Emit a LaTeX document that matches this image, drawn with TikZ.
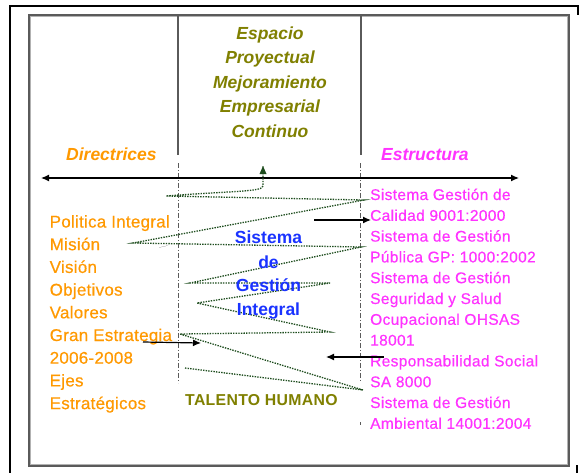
\documentclass[tikz,border=0pt]{standalone}
\usepackage{fontspec}
\setmainfont{Liberation Sans}
\newfontfamily\listfontL[LetterSpace=1.5, FakeBold=0.5]{Liberation Sans}
\newfontfamily\listfontR[LetterSpace=2.2, FakeBold=0.5]{Liberation Sans}
\newfontfamily\talentfont[LetterSpace=2]{Liberation Sans}
\usetikzlibrary{arrows.meta}
\definecolor{olv}{HTML}{808000}
\definecolor{orng}{HTML}{FF9900}
\definecolor{mgnt}{HTML}{FF33FF}
\definecolor{blu}{HTML}{1A33FF}
\definecolor{grn}{HTML}{1E4D1E}
\definecolor{frm}{HTML}{5A5A5A}
\tikzset{
  titletxt/.style={text=olv, font=\fontsize{17.5}{24}\selectfont\bfseries\itshape, anchor=base, inner sep=0pt},
  headtxt/.style={font=\fontsize{17.5}{24}\selectfont\bfseries\itshape, anchor=base west, inner sep=0pt},
  lefttxt/.style={text=orng, font=\listfontL\fontsize{17}{23}\selectfont, anchor=base west, inner sep=0pt},
  righttxt/.style={text=mgnt, font=\listfontR\fontsize{15.5}{21}\selectfont, anchor=base west, inner sep=0pt},
  bluetxt/.style={text=blu, font=\fontsize{17.5}{24}\selectfont\bfseries, anchor=base, inner sep=0pt},
  talenttxt/.style={text=olv, font=\talentfont\fontsize{15.8}{20}\selectfont\bfseries, anchor=base west, inner sep=0pt},
  colline/.style={draw=frm, line width=1.2pt},
  dashcol/.style={draw=frm, line width=1pt, dash pattern=on 5pt off 2pt on 1pt off 2pt},
  blackarrow/.style={draw=black, line width=1.2pt, -{Latex[length=8pt,width=7pt]}},
  spring/.style={draw=grn, line width=1.3pt, dash pattern=on 1.4pt off 1.2pt}
}
\begin{document}
\begin{tikzpicture}[x=1pt,y=-1pt]
\useasboundingbox (0,0) rectangle (579,472);
\fill[white] (0,0) rectangle (579,472);
% outer frame
\draw[black, line width=2.5pt] (10,473) -- (10,6) -- (578,6) -- (578,15);
\draw[black, line width=2.5pt] (577,465) -- (577,473);
% inner frame
\draw[frm, line width=2pt] (29,15) rectangle (569,466);
\draw[gray!60, line width=0.6pt] (30.5,16.5) rectangle (567.5,464.5);
% column lines
\coordinate (c1t) at (178,16); \coordinate (c1b) at (178,155);
\coordinate (c2t) at (361,16); \coordinate (c2b) at (361,155);
\draw[colline] (c1t) -- (c1b);
\draw[colline] (c2t) -- (c2b);
\coordinate (d1t) at (178,163); \coordinate (d1b) at (178,383);
\coordinate (d2t) at (360,163); \coordinate (d2b) at (360,381);
\draw[dashcol] (d1t) -- (d1b);
\draw[dashcol] (d2t) -- (d2b);
\coordinate (d2x) at (360,422); \coordinate (d2y) at (360,425);
\draw[frm, line width=1pt] (d2x) -- (d2y);
% title
\node[titletxt] (t1) at (270,39.3) {Espacio};
\node[titletxt] (t2) at (270,63.5) {Proyectual};
\node[titletxt] (t3) at (270,88) {Mejoramiento};
\node[titletxt] (t4) at (270,112) {Empresarial};
\node[titletxt] (t5) at (270,137.5) {Continuo};
% headings
\node[headtxt, text=orng] (hdir) at (66,160) {Directrices};
\node[headtxt, text=mgnt] (hest) at (381,160) {Estructura};
% main horizontal arrow
\coordinate (hl) at (41,178); \coordinate (hr) at (519,178);
\draw[black, line width=1.2pt, {Latex[length=8pt,width=7pt]}-{Latex[length=8pt,width=7pt]}] (hl) -- (hr);
% left list
\node[lefttxt] (l1) at (49.5,227.5) {Politica Integral};
\node[lefttxt] (l2) at (49.5,250.2) {Misión};
\node[lefttxt] (l3) at (49.5,272.9) {Visión};
\node[lefttxt] (l4) at (49.5,295.6) {Objetivos};
\node[lefttxt] (l5) at (49.5,318.3) {Valores};
\node[lefttxt] (l6) at (49.5,341) {Gran Estrategia};
\node[lefttxt] (l7) at (49.5,363.7) {2006-2008};
\node[lefttxt] (l8) at (49.5,386.4) {Ejes};
\node[lefttxt] (l9) at (49.5,409.1) {Estratégicos};
% right list
\node[righttxt] (r1) at (370,200) {Sistema Gestión de};
\node[righttxt] (r2) at (370,220.8) {Calidad 9001:2000};
\node[righttxt] (r3) at (370,241.6) {Sistema de Gestión};
\node[righttxt] (r4) at (370,262.4) {Pública GP: 1000:2002};
\node[righttxt] (r5) at (370,283.2) {Sistema de Gestión};
\node[righttxt] (r6) at (370,304) {Seguridad y Salud};
\node[righttxt] (r7) at (370,324.8) {Ocupacional OHSAS};
\node[righttxt] (r8) at (370,345.6) {18001};
\node[righttxt] (r9) at (370,366.4) {Responsabilidad Social};
\node[righttxt] (r10) at (370,387.2) {SA 8000};
\node[righttxt] (r11) at (370,408) {Sistema de Gestión};
\node[righttxt] (r12) at (370,428.8) {Ambiental 14001:2004};
% spring
\coordinate (s0) at (263,166);
\coordinate (s1) at (263,186);
\coordinate (s2) at (166,196);
\coordinate (s3) at (364,200);
\coordinate (s4) at (133,243);
\coordinate (s5) at (361,247);
\coordinate (s6) at (190,283);
\coordinate (s7) at (330,283);
\coordinate (s8) at (197,303);
\coordinate (s9) at (330,332);
\coordinate (s10) at (180,334);
\coordinate (s11) at (363,390);
\coordinate (s12) at (185,368);
\draw[spring] (s12) -- (s11) -- (s10) -- (s9) -- (s8) -- (s7) -- (s6) -- (s5) -- (s4) -- (s3) -- (s2) .. controls (230,191) and (263,192) .. (s1) -- (s0);
\fill[grn] (s0) -- ++(-3.5,8) -- ++(7,0) -- cycle;
% blue text
\node[bluetxt] (b1) at (268.5,243.3) {Sistema};
\node[bluetxt] (b2) at (268.5,268.3) {de};
\node[bluetxt] (b3) at (268.5,291.7) {Gestión};
\node[bluetxt] (b4) at (268.5,315) {Integral};
% talento humano
\node[talenttxt] (th) at (185,405) {TALENTO HUMANO};
% black arrows
\coordinate (a1s) at (314,220); \coordinate (a1e) at (371,220);
\draw[blackarrow] (a1s) -- (a1e);
\coordinate (a2s) at (143,342); \coordinate (a2e) at (201,343);
\draw[blackarrow] (a2s) -- (a2e);
\coordinate (a3s) at (384,357); \coordinate (a3e) at (326,357);
\draw[blackarrow] (a3s) -- (a3e);
\coordinate (a4s) at (168,245.5); \coordinate (a4e) at (159,247.5);
\draw[draw=none, fill=black, -{Latex[length=7pt,width=7pt]}] (a4s) -- (a4e);
\end{tikzpicture}
\end{document}
